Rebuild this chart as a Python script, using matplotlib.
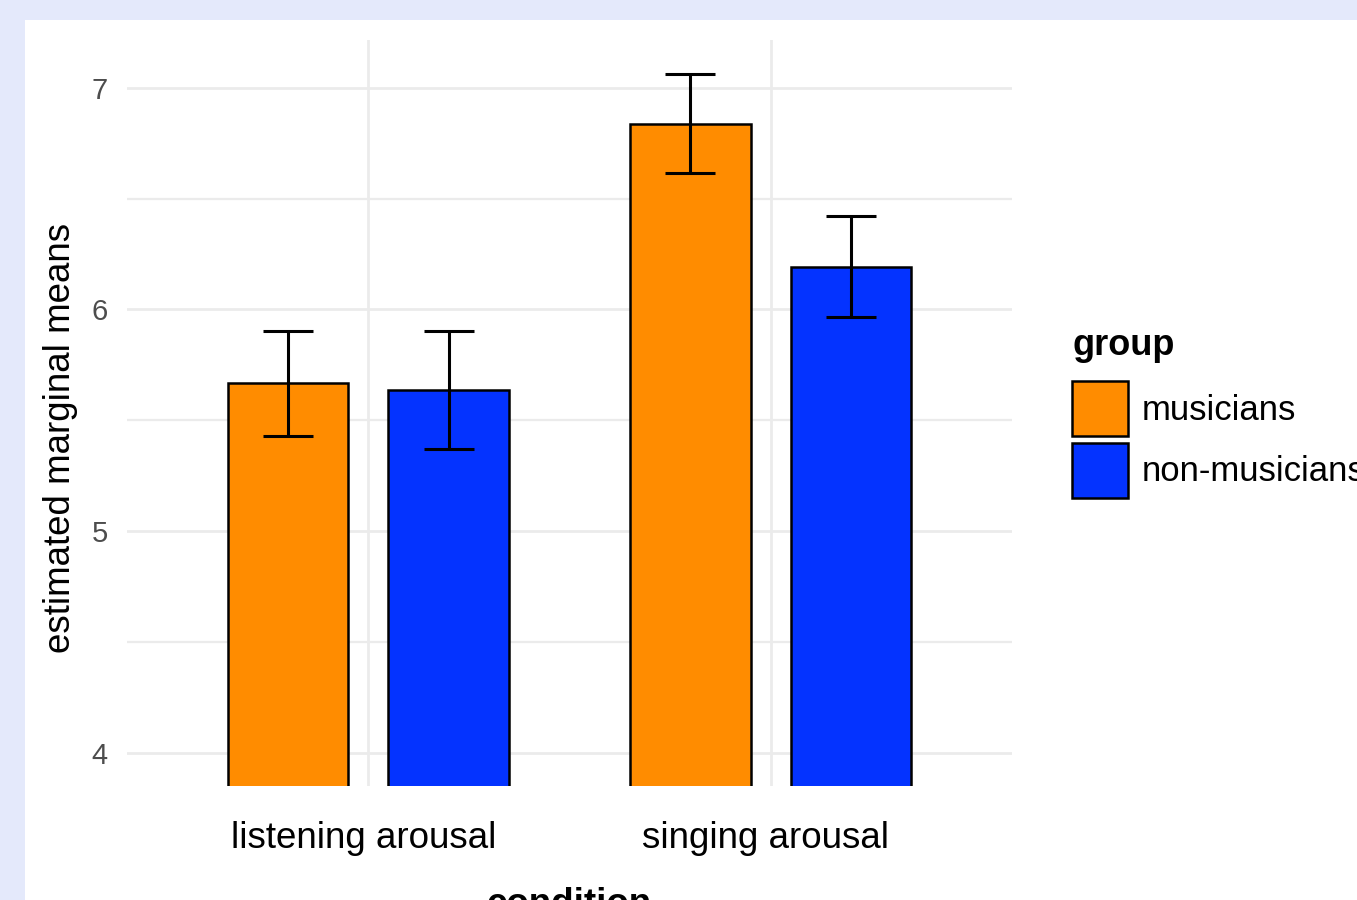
import matplotlib
matplotlib.use("Agg")
import matplotlib.pyplot as plt
import matplotlib.transforms as mtransforms
import numpy as np
from matplotlib.patches import Rectangle, Patch

plt.rcParams["font.family"] = ["Liberation Sans", "DejaVu Sans"]

conditions = ["listening arousal", "singing arousal"]
groups = ["musicians", "non-musicians"]
group_colors = ["#FF8C00", "#0433FF"]

# estimated marginal means with lower / upper interval bounds
emmeans = {
    "musicians": [5.667, 6.838],
    "non-musicians": [5.635, 6.194],
}
lower = {
    "musicians": [5.428, 6.617],
    "non-musicians": [5.369, 5.964],
}
upper = {
    "musicians": [5.905, 7.063],
    "non-musicians": [5.905, 6.423],
}

W, H = 1357, 900
fig = plt.figure(figsize=(W / 100, H / 100), dpi=100)
fig.patch.set_facecolor("#E4E9FB")
# white panel behind everything
fig.patches.append(Rectangle((25 / W, 0), 1, 1 - 20 / H, transform=fig.transFigure,
                             facecolor="white", edgecolor="none", zorder=-10))

ax = fig.add_axes([127 / W, 1 - 786 / H, (1012 - 127) / W, (786 - 40) / H])
ax.set_facecolor("none")

x = np.arange(1, len(conditions) + 1)
dodge = 0.2
width = 0.3
for i, (g, c) in enumerate(zip(groups, group_colors)):
    pos = x + (i * 2 - 1) * dodge
    m = np.array(emmeans[g])
    ax.bar(pos, m, width=width, color=c, edgecolor="black", linewidth=1.8, zorder=2)
    err = np.vstack([m - np.array(lower[g]), np.array(upper[g]) - m])
    ax.errorbar(pos, m, yerr=err, fmt="none", ecolor="black", elinewidth=2.2,
                capsize=18, capthick=2.2, zorder=3)

ax.set_xlim(0.4, 2.6)
ax.set_ylim(3.85, 7.216)
ax.set_xticks(x)
ax.set_xticklabels(conditions)
ax.set_yticks([4, 5, 6, 7])
ax.set_yticks([4.5, 5.5, 6.5], minor=True)
ax.grid(True, which="major", color="#EBEBEB", linewidth=2.0, zorder=0)
ax.grid(True, which="minor", axis="y", color="#EBEBEB", linewidth=1.6, zorder=0)
ax.set_axisbelow(True)
for s in ax.spines.values():
    s.set_visible(False)
ax.tick_params(axis="both", which="both", length=0)
ax.tick_params(axis="y", labelsize=21, labelcolor="#4D4D4D", pad=14)
ax.tick_params(axis="x", labelsize=26.5, labelcolor="black", pad=25)

# nudge the category labels slightly left
shift = mtransforms.ScaledTranslation(-5 / 100, 0, fig.dpi_scale_trans)
for lbl in ax.get_xticklabels():
    lbl.set_transform(lbl.get_transform() + shift)

ax.set_ylabel("estimated marginal means", fontsize=26.5)
ax.yaxis.set_label_coords(-0.055, 0.467)
ax.set_xlabel("condition", fontsize=26.5, fontweight="bold")
ax.xaxis.set_label_coords(0.5, -0.135)

handles = [Patch(facecolor=c, edgecolor="black", linewidth=1.8) for c in group_colors]
leg = fig.legend(handles, groups, loc="upper left",
                 bbox_to_anchor=(1072 / W, 1 - 328 / H), frameon=False,
                 fontsize=25, title="group", title_fontproperties={"weight": "bold", "size": 26},
                 alignment="left", borderpad=0, borderaxespad=0,
                 handlelength=1.6, handleheight=2.06, labelspacing=0.2, handletextpad=0.4)
leg._legend_box.sep = 13

fig.savefig("out.png", dpi=100, facecolor=fig.get_facecolor())
